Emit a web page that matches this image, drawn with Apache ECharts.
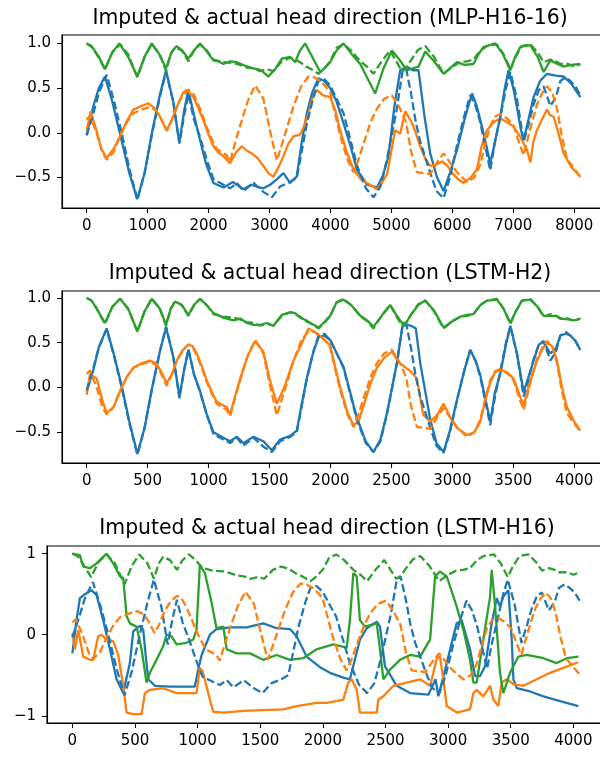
<!DOCTYPE html>
<html>
<head>
<meta charset="utf-8">
<script src="https://cdn.jsdelivr.net/npm/echarts@6/dist/echarts.min.js"></script>
<style>
html,body{margin:0;padding:0;background:#fff;overflow:hidden;}
#chart{width:600px;height:758px;}
</style>
</head>
<body>
<div id="chart"></div>
<script>
// ---------- actual head direction (timestep units of the LSTM panels) ----------
const T_ACT_BLUE = [0,55,100,164,225,287,350,416,475,534, 600,651,711,761,800,835,880,930,985,1040, 1122,1177,1232,1286,1368,1450,1519,1587,1669,1724, 1765,1806,1860,1902,1950,1998,2107,2217,2290,2353, 2410,2463,2545,2590,2620,2660,2700,2737,2819,2870, 2928,2980,3038,3100,3147,3190,3229,3270,3311,3350, 3394,3440,3476,3530,3585,3630,3667,3710,3749,3804, 3850,3886,3930,3968,4010,4050];
const ACT_BLUE = [-0.03,0.22,0.45,0.65,0.35,0.0,-0.40,-0.75,-0.45,-0.03, 0.40,0.68,0.34,-0.12,0.20,0.43,0.15,-0.05,-0.30,-0.52, -0.58,-0.62,-0.56,-0.65,-0.56,-0.66,-0.72,-0.60,-0.55,-0.50, -0.20,0.10,0.40,0.58,0.60,0.53,0.22,-0.36,-0.62,-0.72, -0.60,-0.30,0.27,0.68,0.72,0.45,0.12,-0.10,-0.45,-0.65, -0.73,-0.50,-0.14,0.20,0.42,0.30,0.12,-0.15,-0.42,-0.10, 0.18,0.50,0.68,0.38,-0.10,0.12,0.32,0.48,0.52,0.30, 0.40,0.58,0.62,0.58,0.52,0.42];

const T_ACT_ORANGE = [0,27,82,130,164,220,274,330,383,450, 520,570,602,657,700,739,790,835,870,903, 950,985,1030,1067,1149,1177,1220,1259,1320,1382, 1450,1500,1560,1620,1697,1760,1820,1870,1916,1960, 1998,2040,2080,2140,2189,2230,2272,2330,2381,2440, 2504,2560,2620,2660,2709,2760,2819,2880,2928,2990, 3038,3120,3180,3229,3270,3311,3350,3394,3450,3503, 3550,3585,3640,3695,3740,3777,3820,3859,3900,3941, 4000,4050];
const ACT_ORANGE = [0.15,0.19,0.0,-0.22,-0.30,-0.22,-0.03,0.12,0.22,0.26, 0.29,0.25,0.18,0.02,0.15,0.30,0.42,0.48,0.45,0.36, 0.20,0.06,-0.08,-0.18,-0.25,-0.32,-0.10,0.08,0.35,0.53, 0.38,0.05,-0.31,-0.05,0.30,0.52,0.63,0.62,0.58,0.52, 0.45,0.20,-0.03,-0.30,-0.44,-0.30,-0.12,0.12,0.27,0.38, 0.42,0.30,0.12,-0.20,-0.44,-0.45,-0.46,-0.32,-0.23,-0.35, -0.44,-0.55,-0.50,-0.36,-0.12,0.08,0.18,0.21,0.16,0.08, -0.12,-0.25,0.05,0.32,0.45,0.52,0.45,0.27,-0.05,-0.29, -0.40,-0.49];

const T_ACT_GREEN = [0,40,82,150,210,274,340,416,475,534, 600,651,690,725,780,835,880,930,985,1040, 1122,1204,1260,1314,1370,1423,1480,1532,1601,1669, 1710,1751,1800,1834,1902,1950,1998,2050,2107,2170, 2244,2300,2353,2420,2490,2540,2586,2620,2655,2720, 2778,2850,2928,3000,3065,3120,3174,3230,3284,3366, 3420,3476,3520,3571,3640,3700,3749,3804,3850,3886, 3950,4000,4050];
const ACT_GREEN = [1.0,0.97,0.88,0.71,0.90,0.99,0.88,0.62,0.85,0.99, 0.88,0.69,0.88,0.96,0.92,0.80,0.92,0.99,0.92,0.82, 0.79,0.78,0.76,0.73,0.72,0.69,0.71,0.69,0.80,0.84, 0.82,0.79,0.74,0.72,0.66,0.72,0.80,0.95,0.99,0.92, 0.80,0.74,0.66,0.80,0.92,0.80,0.69,0.72,0.80,0.93, 0.97,0.85,0.66,0.74,0.79,0.80,0.82,0.92,0.97,0.99, 0.88,0.71,0.85,0.97,0.99,0.90,0.79,0.82,0.80,0.77, 0.77,0.74,0.77];

// ---------- LSTM-H2 imputed (same timesteps as actual) ----------
const H2_BLUE = [-0.05,0.20,0.45,0.66,0.36,0.02,-0.38,-0.74,-0.45,-0.02, 0.40,0.67,0.34,-0.10,0.20,0.42,0.15,-0.04,-0.30,-0.50, -0.56,-0.60,-0.55,-0.62,-0.55,-0.60,-0.70,-0.58,-0.54,-0.48, -0.18,0.10,0.40,0.56,0.58,0.53,0.23,-0.34,-0.60,-0.72, -0.58,-0.29,0.27,0.68,0.70,0.69,0.66,0.27,-0.36,-0.62, -0.72,-0.48,-0.14,0.20,0.42,0.30,0.14,-0.12,-0.38,-0.05, 0.16,0.48,0.69,0.38,-0.05,0.14,0.30,0.48,0.51,0.38, 0.44,0.58,0.60,0.58,0.52,0.42];
const H2_ORANGE = [-0.08,0.15,0.10,-0.15,-0.28,-0.22,-0.04,0.12,0.22,0.27, 0.30,0.27,0.20,0.05,0.15,0.30,0.42,0.48,0.46,0.38, 0.22,0.08,-0.06,-0.16,-0.22,-0.30,-0.08,0.10,0.35,0.52, 0.40,0.10,-0.18,0.00,0.30,0.48,0.66,0.62,0.57,0.52, 0.47,0.22,0.00,-0.28,-0.42,-0.38,-0.20,0.05,0.22,0.33, 0.40,0.28,0.22,0.18,0.10,-0.30,-0.38,-0.30,-0.18,-0.35, -0.45,-0.53,-0.50,-0.38,-0.15,0.06,0.17,0.20,0.17,0.10, -0.08,-0.20,0.08,0.30,0.43,0.50,0.46,0.30,0.00,-0.22, -0.38,-0.48];
const H2_GREEN = [1.0,0.97,0.88,0.72,0.90,0.99,0.88,0.63,0.85,0.99, 0.88,0.70,0.88,0.96,0.92,0.81,0.92,0.99,0.92,0.83, 0.78,0.75,0.77,0.72,0.70,0.70,0.72,0.69,0.81,0.84, 0.83,0.78,0.75,0.72,0.67,0.73,0.80,0.95,0.98,0.92, 0.80,0.75,0.68,0.80,0.92,0.81,0.72,0.72,0.80,0.92, 0.97,0.86,0.67,0.74,0.79,0.81,0.82,0.92,0.97,0.98, 0.88,0.72,0.85,0.97,0.98,0.90,0.80,0.80,0.80,0.77, 0.76,0.75,0.77];

// ---------- MLP-H16-16 imputed (MLP panel time units) ----------
const X_MLP_BLUE = [0,110,200,300,420,560,700,830,950,1070, 1200,1302,1420,1520,1600,1668,1760,1860,1960,2079, 2243,2400,2572,2700,2790,2900,3010,3120,3228,3338, 3446,3530,3612,3700,3803,3900,3995,4100,4213,4330, 4433,4600,4762,4860,4952,5050,5144,5250,5350,5445, 5540,5637,5750,5856,5960,6076,6200,6322,6400,6486, 6560,6622,6700,6787,6860,6923,7000,7060,7120,7169, 7250,7333,7440,7553,7700,7826,7950,8100];
const MLP_BLUE = [-0.02,0.30,0.50,0.63,0.35,-0.05,-0.45,-0.74,-0.45,0.0, 0.42,0.70,0.35,-0.11,0.25,0.48,0.20,-0.08,-0.35,-0.56, -0.61,-0.55,-0.63,-0.58,-0.60,-0.62,-0.58,-0.52,-0.45,-0.56, -0.49,-0.10,0.22,0.45,0.61,0.58,0.50,0.35,0.11,-0.15, -0.41,-0.58,-0.61,-0.48,-0.26,0.30,0.70,0.74,0.70,0.70, 0.20,-0.23,-0.50,-0.65,-0.45,-0.19,0.15,0.44,0.30,0.07, -0.15,-0.34,-0.10,0.18,0.50,0.70,0.50,0.29,0.05,-0.08, 0.15,0.40,0.58,0.66,0.64,0.63,0.55,0.40];
const X_MLP_ORANGE = [0,65,150,240,328,440,547,650,765,900, 1011,1110,1204,1313,1400,1504,1580,1642,1750,1830, 1915,2000,2079,2160,2243,2353,2450,2545,2630,2710, 2800,2900,2980,3064,3150,3228,3310,3392,3500,3570, 3640,3700,3777,3880,3995,4080,4159,4260,4378,4500, 4650,4762,4850,4930,5000,5062,5144,5227,5280,5337, 5400,5473,5550,5637,5750,5830,5910,6000,6100,6184, 6300,6403,6480,6568,6680,6787,6900,7005,7120,7225, 7280,7330,7389,7470,7553,7600,7662,7740,7826,7950, 8100];
const MLP_ORANGE = [0.03,0.24,0.05,-0.18,-0.28,-0.18,-0.04,0.12,0.26,0.30, 0.33,0.28,0.18,0.03,0.15,0.33,0.45,0.48,0.40,0.28, 0.14,-0.02,-0.15,-0.22,-0.26,-0.34,-0.22,-0.15,-0.20,-0.23, -0.28,-0.37,-0.45,-0.49,-0.38,-0.26,-0.12,-0.04,-0.02,0.08, 0.22,0.38,0.48,0.42,0.40,0.25,0.03,-0.20,-0.41,-0.52, -0.58,-0.63,-0.55,-0.46,-0.20,0.03,-0.01,0.24,0.18,0.11, 0.0,-0.15,-0.28,-0.37,-0.35,-0.32,-0.36,-0.45,-0.52,-0.56, -0.50,-0.41,-0.15,0.03,0.12,0.16,0.12,0.07,-0.05,-0.19, -0.33,-0.10,0.03,0.15,0.26,0.20,0.18,0.0,-0.23,-0.38, -0.49];
const X_MLP_GREEN = [0,100,200,300,420,535,680,830,950,1067, 1190,1302,1390,1478,1570,1668,1760,1860,1960,2079, 2160,2243,2350,2463,2600,2736,2860,2982,3100,3202, 3338,3420,3500,3585,3700,3831,3900,3995,4100,4213, 4350,4488,4600,4734,4870,5008,5130,5254,5445,5555, 5700,5856,6076,6200,6346,6430,6512,6704,6830,6951, 7030,7115,7279,7400,7498,7608,7700,7826,7950,8100];
const MLP_GREEN = [1.0,0.95,0.85,0.71,0.90,1.0,0.85,0.63,0.85,1.0, 0.88,0.72,0.90,0.97,0.92,0.83,0.92,1.0,0.92,0.81, 0.80,0.77,0.80,0.79,0.75,0.72,0.70,0.63,0.72,0.83, 0.85,0.79,0.92,1.0,0.85,0.68,0.72,0.79,0.92,1.0, 0.88,0.77,0.62,0.44,0.72,0.92,0.82,0.70,0.74,0.91, 0.80,0.66,0.79,0.76,0.77,0.88,0.96,1.0,0.88,0.70, 0.85,0.96,0.98,0.85,0.68,0.81,0.78,0.74,0.76,0.77];
const MLP_STEP = 2; // MLP panel time axis is twice the LSTM timestep

// ---------- LSTM-H16 imputed ----------
const T_H16_BLUE = [0,33,60,100,153,193,246,300,353,406, 459,486,539,566,585,606,659,779,978,1005, 1032,1098,1151,1258,1391,1524,1631,1737,1790,1870, 1977,2057,2163,2216,2296,2350,2430,2456,2496,2590, 2696,2842,2900,2922,2989,3068,3108,3175,3215,3255, 3295,3348,3388,3414,3441,3481,3508,3521,3548,3654, 3761,3894,4040];
const H16_BLUE = [-0.23,0.18,0.45,0.50,0.55,0.49,0.18,-0.18,-0.55,-0.72, -0.35,0.04,0.11,0.06,-0.25,-0.55,-0.63,-0.64,-0.64,-0.43, -0.25,0.0,0.07,0.09,0.09,0.14,0.08,0.07,-0.02,-0.27, -0.40,-0.47,-0.53,-0.55,-0.06,0.08,0.16,0.10,-0.39,-0.63, -0.72,-0.74,-0.55,-0.76,-0.35,0.14,0.18,-0.18,-0.51,-0.51, -0.39,0.14,0.45,0.35,0.47,0.55,-0.06,-0.55,-0.66,-0.70, -0.76,-0.82,-0.88];
const T_H16_ORANGE = [0,20,47,87,140,166,206,233,273,326, 366,406,433,486,553,579,619,726,832,991, 1018,1040,1098,1125,1205,1364,1524,1684,1790,1950, 2030,2163,2203,2230,2270,2296,2430,2443,2483,2563, 2669,2776,2856,2882,2909,2935,2962,2989,3068,3175, 3202,3228,3281,3335,3361,3401,3428,3468,3521,3601, 3707,3814,3920,4040];
const H16_ORANGE = [0.02,-0.18,0.06,-0.27,-0.31,-0.31,-0.02,0.0,-0.06,-0.08, -0.25,-0.63,-0.96,-0.98,-0.98,-0.72,-0.68,-0.66,-0.72,-0.72, -0.41,-0.45,-0.80,-0.95,-0.96,-0.94,-0.93,-0.92,-0.88,-0.84, -0.84,-0.80,-0.59,-0.55,-0.68,-0.96,-0.96,-0.80,-0.76,-0.63, -0.59,-0.55,-0.63,-0.47,-0.29,-0.27,-0.55,-0.88,-0.96,-0.92, -0.72,-0.68,-0.76,-0.63,-0.80,-0.88,-0.59,-0.55,-0.61,-0.63, -0.55,-0.47,-0.41,-0.34];
const T_H16_GREEN = [0,60,87,140,193,273,326,380,406,433, 459,512,553,592,619,672,726,752,792,832, 912,965,991,1018,1058,1112,1151,1205,1232,1311, 1418,1524,1631,1737,1844,1950,2083,2190,2216,2243, 2270,2296,2336,2430,2456,2483,2536,2616,2696,2776, 2856,2896,2935,2989,3068,3122,3175,3202,3228,3281, 3335,3348,3375,3414,3441,3494,3561,3627,3761,3867, 3947,4040];
const H16_GREEN = [1.0,0.98,0.84,0.82,0.88,1.0,0.88,0.72,0.70,0.23, 0.14,0.10,-0.18,-0.59,-0.47,-0.31,-0.14,0.0,-0.02,-0.12, -0.10,-0.06,0.06,0.86,0.76,0.39,0.08,0.10,-0.18,-0.23, -0.23,-0.31,-0.25,-0.31,-0.29,-0.18,-0.12,-0.16,0.18,0.76, 0.72,0.18,0.10,0.14,-0.18,-0.55,-0.43,-0.31,-0.25,-0.27, -0.06,0.72,0.78,0.72,0.35,0.06,-0.31,-0.59,-0.59,-0.06, 0.47,0.80,0.35,-0.47,-0.72,-0.47,-0.27,-0.25,-0.29,-0.35, -0.29,-0.27];

// ---------- titles and ticks ----------
const TITLES = [
  'Imputed & actual head direction (MLP-H16-16)',
  'Imputed & actual head direction (LSTM-H2)',
  'Imputed & actual head direction (LSTM-H16)'
];
const X_TICKS_MLP = [0,1000,2000,3000,4000,5000,6000,7000,8000];
const X_TICKS_LSTM = [0,500,1000,1500,2000,2500,3000,3500,4000];
const Y_TICKS_12 = [-0.5,0.0,0.5,1.0];
const Y_TICKS_3 = [-1,0,1];

// ---------- build ----------
const COLORS = {blue:'#1f77b4', orange:'#ff7f0e', green:'#2ca02c'};
const FONT = 'DejaVu Sans';
const LW = 2.3;
const DASH = [8, 3.5];
function pairs(xs, ys, k) { k = k || 1; return xs.map((x, i) => [x * k, ys[i]]); }
const minus = s => String(s).replace('-', '\u2212');

const panels = [
  {grid:{left:62, top:35, width:543, height:173}, x:[-405, 8505], y:[-0.84, 1.094],
   xt:X_TICKS_MLP, yt:Y_TICKS_12, yf:v => minus(v.toFixed(1)), tx:330, ty:19,
   imp:[pairs(X_MLP_BLUE, MLP_BLUE), pairs(X_MLP_ORANGE, MLP_ORANGE), pairs(X_MLP_GREEN, MLP_GREEN)], k:MLP_STEP},
  {grid:{left:62, top:291, width:543, height:172}, x:[-202.5, 4252.5], y:[-0.842, 1.077],
   xt:X_TICKS_LSTM, yt:Y_TICKS_12, yf:v => minus(v.toFixed(1)), tx:330, ty:274,
   imp:[pairs(T_ACT_BLUE, H2_BLUE), pairs(T_ACT_ORANGE, H2_ORANGE), pairs(T_ACT_GREEN, H2_GREEN)], k:1},
  {grid:{left:47, top:546, width:558, height:177}, x:[-202.5, 4252.5], y:[-1.089, 1.094],
   xt:X_TICKS_LSTM, yt:Y_TICKS_3, yf:v => minus(v), tx:327, ty:529,
   imp:[pairs(T_H16_BLUE, H16_BLUE), pairs(T_H16_ORANGE, H16_ORANGE), pairs(T_H16_GREEN, H16_GREEN)], k:1}
];

const grids = [], xAxes = [], yAxes = [], series = [], graphics = [];
const axisCommon = {
  axisLine:{show:true, onZero:false, lineStyle:{color:'#000', width:1.1}},
  splitLine:{show:false}
};
panels.forEach((p, i) => {
  grids.push(Object.assign({show:true, borderColor:'#000', borderWidth:1.1, backgroundColor:'#fff',
    containLabel:false, outerBoundsMode:'none'}, p.grid));
  xAxes.push(Object.assign({}, axisCommon, {
    type:'value', gridIndex:i, min:p.x[0], max:p.x[1],
    axisTick:{show:true, length:5, customValues:p.xt, lineStyle:{color:'#000', width:1.1}},
    axisLabel:{customValues:p.xt, margin:11, fontSize:15, color:'#000', fontFamily:FONT, formatter:v => minus(v)}
  }));
  yAxes.push(Object.assign({}, axisCommon, {
    type:'value', gridIndex:i, min:p.y[0], max:p.y[1],
    axisTick:{show:true, length:5, customValues:p.yt, lineStyle:{color:'#000', width:1.1}},
    axisLabel:{customValues:p.yt, margin:11, fontSize:15, color:'#000', fontFamily:FONT, formatter:p.yf}
  }));
  const cols = [COLORS.blue, COLORS.orange, COLORS.green];
  p.imp.forEach((d, j) => series.push({
    type:'line', xAxisIndex:i, yAxisIndex:i, data:d, showSymbol:false, symbol:'none',
    lineStyle:{color:cols[j], width:LW}, z:2
  }));
  const act = [pairs(T_ACT_BLUE, ACT_BLUE, p.k), pairs(T_ACT_ORANGE, ACT_ORANGE, p.k), pairs(T_ACT_GREEN, ACT_GREEN, p.k)];
  act.forEach((d, j) => series.push({
    type:'line', xAxisIndex:i, yAxisIndex:i, data:d, showSymbol:false, symbol:'none',
    lineStyle:{color:cols[j], width:LW, type:DASH}, z:3
  }));
  graphics.push({type:'text', x:p.tx, y:p.ty, style:{text:TITLES[i], fill:'#000',
    font:'20.4px "' + FONT + '"', align:'center', verticalAlign:'middle'}});
});

const chart = echarts.init(document.getElementById('chart'), null, {renderer:'canvas'});
chart.setOption({
  animation:false,
  backgroundColor:'#fff',
  grid:grids, xAxis:xAxes, yAxis:yAxes, series:series, graphic:graphics
});
</script>
</body>
</html>
